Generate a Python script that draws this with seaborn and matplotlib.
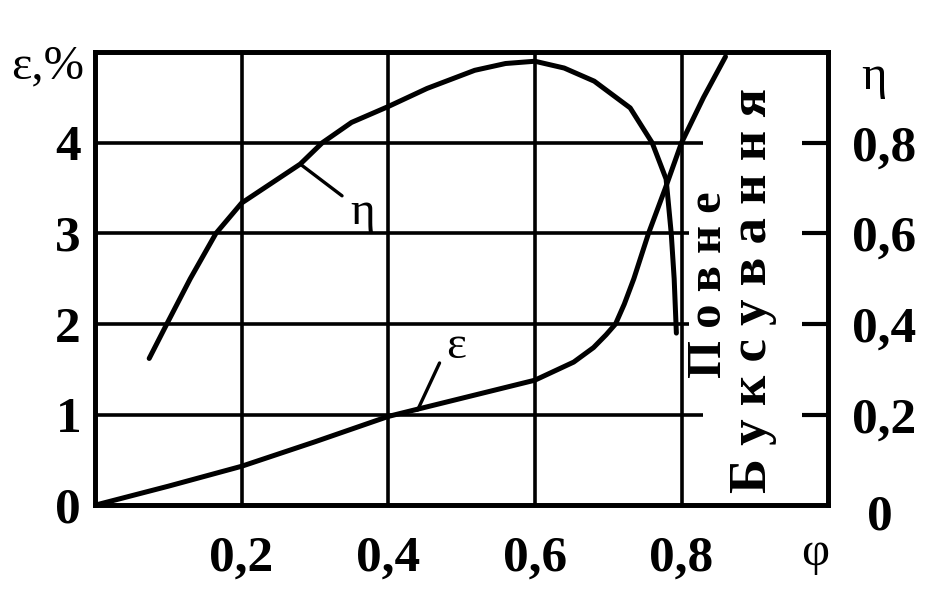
import numpy as np
import pandas as pd
import seaborn as sns
import matplotlib.pyplot as plt

# curve data
phi_eps = [0.0, 0.1, 0.2, 0.3, 0.4, 0.435, 0.5, 0.55, 0.6, 0.653, 0.68, 0.697, 0.71, 0.722, 0.735, 0.755, 0.778, 0.8, 0.83, 0.86]
eps = [0.0, 0.21, 0.43, 0.7, 0.98, 1.05, 1.18, 1.28, 1.38, 1.58, 1.74, 1.88, 2.0, 2.22, 2.5, 3.0, 3.5, 4.0, 4.5, 4.95]

phi_eta = [0.074, 0.098, 0.13, 0.165, 0.2, 0.24, 0.28, 0.31, 0.35, 0.4, 0.453, 0.518, 0.56, 0.6,
           0.64, 0.681, 0.73, 0.76, 0.779, 0.786, 0.79, 0.793]
eta = [0.324, 0.40, 0.50, 0.60, 0.667, 0.71, 0.753, 0.80, 0.845, 0.88, 0.92, 0.96, 0.975, 0.98,
       0.965, 0.936, 0.877, 0.80, 0.72, 0.60, 0.50, 0.38]

x_ticks = [0.2, 0.4, 0.6, 0.8]
x_labels = ["0,2", "0,4", "0,6", "0,8"]
eps_ticks = [0, 1, 2, 3, 4]
eps_grid_end = [0.83, 0.81, 0.81, 0.83]  # horizontal grid lines stop before the right axis
eta_ticks = [0.2, 0.4, 0.6, 0.8]
eta_labels = ["0,2", "0,4", "0,6", "0,8"]

sns.set_style("white")
plt.rcParams['font.family'] = ['Liberation Serif', 'DejaVu Serif']
plt.rcParams['text.color'] = 'black'
plt.rcParams['xtick.color'] = 'black'
plt.rcParams['ytick.color'] = 'black'

fig = plt.figure(figsize=(9.4, 5.93), dpi=100)
ax = fig.add_axes([0.101, 0.148, 0.780, 0.764])
ax.set_xlim(0, 1.0)
ax.set_ylim(0, 5)

df_eps = pd.DataFrame({"phi": phi_eps, "eps": eps})
df_eta = pd.DataFrame({"phi": phi_eta, "eta": eta})

# grid
for xv in x_ticks:
    ax.axvline(xv, color="k", lw=2.6, zorder=1)
ax.hlines(eps_ticks[1:], 0, eps_grid_end, color="k", lw=2.6, zorder=1)

sns.lineplot(data=df_eps, x="phi", y="eps", ax=ax, color="k", lw=3.6, sort=False, estimator=None)
ax.lines[-1].set_solid_joinstyle("round")

ax.set_xticks(x_ticks)
ax.set_xticklabels(x_labels)
ax.set_yticks(eps_ticks)
ax.set_yticklabels([str(v) for v in eps_ticks])
ax.tick_params(axis="x", length=0, pad=22, labelsize=37)
ax.tick_params(axis="y", length=0, pad=10, labelsize=37)
for lab in ax.get_xticklabels() + ax.get_yticklabels():
    lab.set_fontweight("bold")
ax.set_xlabel("")
ax.set_ylabel("")
for s in ax.spines.values():
    s.set_linewidth(3.4)
    s.set_color("k")

ax2 = ax.twinx()
ax2.set_ylim(0, 1.0)
sns.lineplot(data=df_eta, x="phi", y="eta", ax=ax2, color="k", lw=3.6, sort=False, estimator=None)
ax2.lines[-1].set_solid_joinstyle("round")
ax2.set_yticks(eta_ticks)
ax2.set_yticklabels(eta_labels)
ax2.tick_params(axis="y", direction="in", length=19, width=3, pad=17, labelsize=37)
for lab in ax2.get_yticklabels():
    lab.set_fontweight("bold")
ax2.set_ylabel("")
for s in ax2.spines.values():
    s.set_linewidth(3.4)
    s.set_color("k")
ax2.annotate("0", xy=(1, 0), xycoords="axes fraction", xytext=(28, -9),
             textcoords="offset points", fontsize=37, fontweight="bold", va="center")

# axis names
fig.text(0.051, 0.888, "ε,%", fontsize=35, ha="center", va="center")
fig.text(0.930, 0.87, "η", fontsize=35, ha="center", va="center")
fig.text(0.867, 0.068, "φ", fontsize=35, ha="center", va="center")

# curve labels with leader lines
ax2.annotate("", xy=(0.28, 0.753), xytext=(0.337, 0.683),
             arrowprops=dict(arrowstyle="-", lw=2.4, color="k", shrinkA=0, shrinkB=0))
ax2.text(0.365, 0.645, "η", fontsize=34, ha="center", va="center")
ax.annotate("", xy=(0.44, 1.05), xytext=(0.47, 1.57),
            arrowprops=dict(arrowstyle="-", lw=2.4, color="k", shrinkA=0, shrinkB=0))
ax.text(0.493, 1.75, "ε", fontsize=34, ha="center", va="center")

# vertical caption
ax.text(0.837, 2.43, "П о в н е", rotation=90, fontsize=35, fontweight="bold", ha="center", va="center")
ax.text(0.897, 2.37, "Б у к с у в а н н я", rotation=90, fontsize=38, fontweight="bold", ha="center", va="center")

fig.savefig("out.png", dpi=100, facecolor="white")
